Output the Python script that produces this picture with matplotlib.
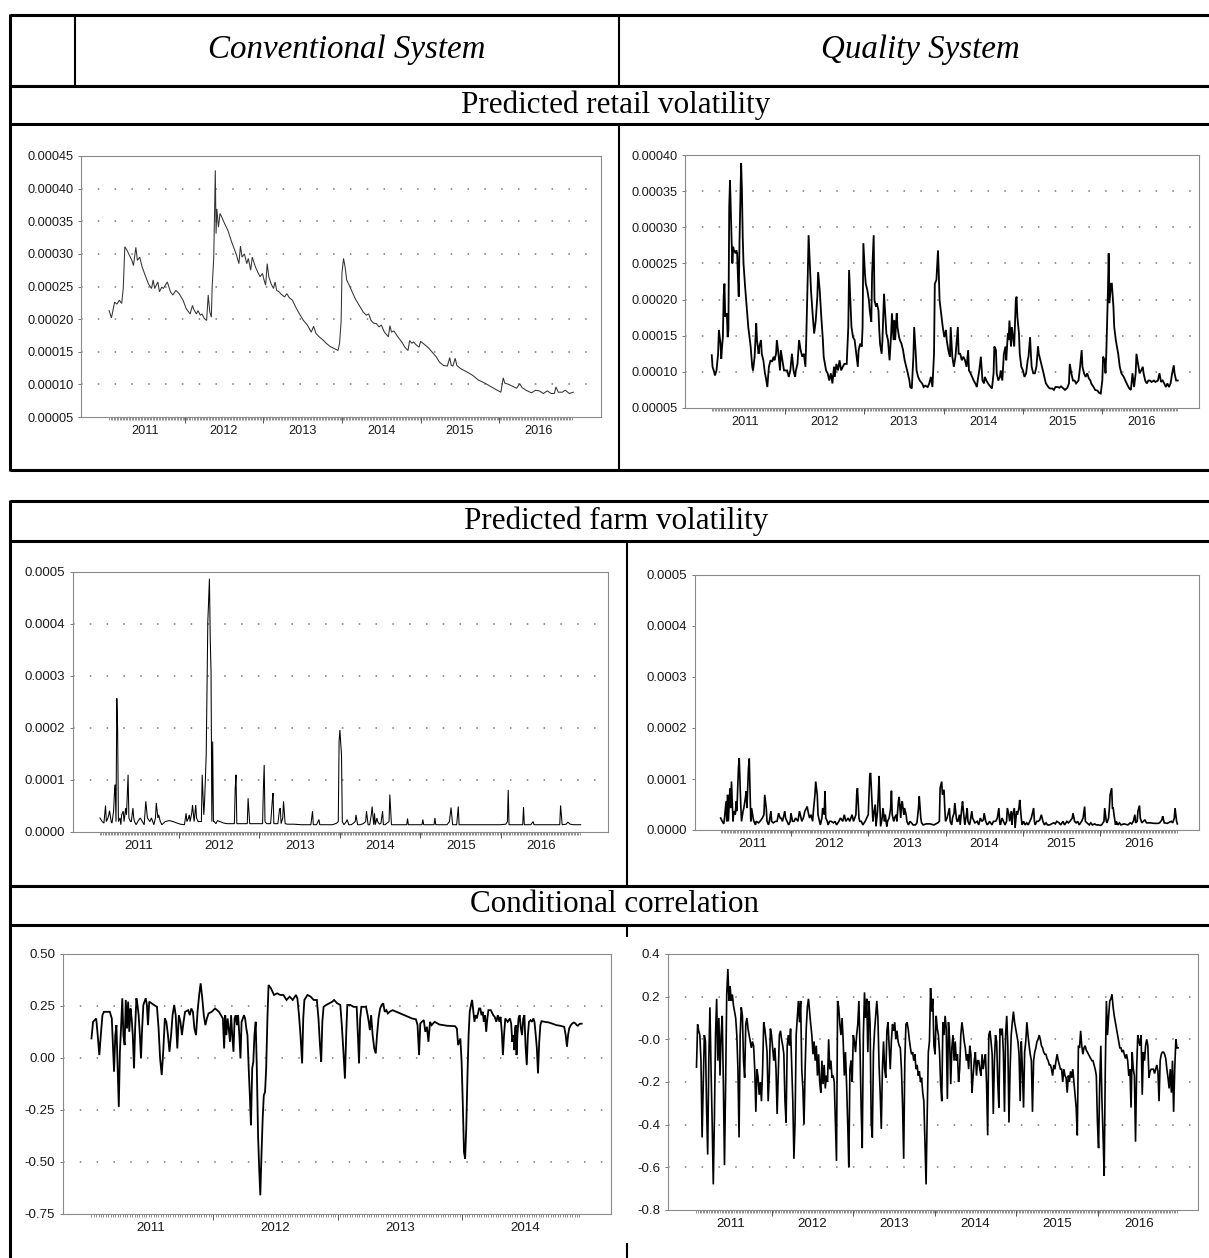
import numpy as np
import matplotlib.pyplot as plt
from matplotlib.lines import Line2D

# ---------------------------------------------------------------- data
# (decimal year, value x 1e-5)
conv_retail = [
    (2011.04, 21.3), (2011.07, 20.2), (2011.11, 22.6), (2011.14, 22.3), (2011.17, 22.9), (2011.20, 22.4),
    (2011.22, 24.7), (2011.24, 31.1), (2011.27, 30.5), (2011.29, 30.0), (2011.33, 29.0), (2011.35, 28.2),
    (2011.38, 31.0), (2011.40, 29.0), (2011.43, 29.5), (2011.46, 28.0), (2011.49, 27.0), (2011.54, 25.4),
    (2011.58, 24.7), (2011.60, 26.0), (2011.62, 24.7), (2011.66, 25.7), (2011.68, 24.2), (2011.71, 24.9),
    (2011.73, 24.7), (2011.78, 25.7), (2011.82, 24.2), (2011.85, 23.7), (2011.89, 24.4), (2011.93, 23.9),
    (2011.98, 22.9), (2012.02, 21.6), (2012.07, 20.8), (2012.10, 22.1), (2012.12, 21.4), (2012.15, 20.8),
    (2012.17, 21.3), (2012.20, 20.6), (2012.22, 20.8), (2012.25, 20.1), (2012.28, 19.8), (2012.30, 23.7),
    (2012.32, 21.1), (2012.34, 20.3), (2012.35, 24.9), (2012.37, 29.3), (2012.39, 42.8), (2012.40, 33.1),
    (2012.41, 36.9), (2012.43, 34.1), (2012.45, 36.2), (2012.47, 35.7), (2012.51, 34.6), (2012.55, 33.6),
    (2012.59, 32.1), (2012.62, 31.1), (2012.66, 29.8), (2012.69, 28.5), (2012.71, 31.2), (2012.73, 29.5),
    (2012.76, 30.0), (2012.79, 28.5), (2012.81, 29.3), (2012.84, 27.5), (2012.86, 29.5), (2012.90, 28.0),
    (2012.93, 27.2), (2012.96, 26.5), (2012.99, 27.0), (2013.01, 26.0), (2013.03, 25.2), (2013.05, 28.5),
    (2013.07, 26.5), (2013.10, 25.4), (2013.13, 24.7), (2013.15, 25.7), (2013.17, 24.4), (2013.20, 24.2),
    (2013.23, 23.8), (2013.27, 23.4), (2013.30, 23.9), (2013.33, 23.3), (2013.37, 22.9), (2013.41, 21.9),
    (2013.46, 20.8), (2013.51, 19.8), (2013.56, 19.1), (2013.61, 18.0), (2013.64, 18.9), (2013.67, 17.8),
    (2013.71, 17.3), (2013.76, 16.8), (2013.80, 16.3), (2013.85, 15.8), (2013.90, 15.5), (2013.95, 15.2),
    (2013.97, 16.3), (2013.99, 19.8), (2014.00, 27.0), (2014.02, 29.3), (2014.04, 28.0), (2014.06, 26.0),
    (2014.10, 25.0), (2014.14, 23.9), (2014.17, 23.1), (2014.22, 22.1), (2014.27, 21.1), (2014.31, 20.6),
    (2014.34, 20.8), (2014.37, 19.8), (2014.40, 19.4), (2014.44, 19.3), (2014.47, 18.8), (2014.50, 19.1),
    (2014.54, 18.0), (2014.59, 17.3), (2014.61, 19.0), (2014.63, 18.0), (2014.66, 18.2), (2014.71, 17.3),
    (2014.76, 16.5), (2014.80, 15.7), (2014.84, 15.2), (2014.86, 16.7), (2014.89, 16.3), (2014.91, 16.5),
    (2014.94, 16.1), (2014.98, 15.7), (2015.00, 16.6), (2015.05, 16.1), (2015.10, 15.6), (2015.15, 14.9),
    (2015.20, 14.2), (2015.24, 13.4), (2015.29, 12.9), (2015.34, 12.8), (2015.37, 14.1), (2015.39, 12.9),
    (2015.41, 12.8), (2015.44, 14.0), (2015.46, 12.9), (2015.51, 12.4), (2015.59, 11.9), (2015.66, 11.4),
    (2015.73, 10.7), (2015.83, 10.1), (2015.93, 9.4), (2016.02, 8.8), (2016.05, 11.0), (2016.07, 10.2),
    (2016.12, 10.0), (2016.17, 9.7), (2016.22, 9.4), (2016.26, 10.1), (2016.29, 9.5), (2016.34, 9.1),
    (2016.41, 8.7), (2016.46, 9.1), (2016.51, 9.0), (2016.56, 8.6), (2016.61, 9.0), (2016.66, 8.6),
    (2016.70, 8.6), (2016.72, 9.6), (2016.75, 8.8), (2016.80, 8.8), (2016.84, 9.1), (2016.89, 8.6),
    (2016.94, 8.8),
]

quality_retail = [
    (2011.08, 12.3), (2011.09, 10.7), (2011.11, 10.0), (2011.12, 9.5), (2011.14, 10.2), (2011.16, 12.5),
    (2011.17, 15.8), (2011.19, 13.9), (2011.20, 11.8), (2011.21, 13.5), (2011.22, 14.8), (2011.23, 20.4),
    (2011.24, 22.2), (2011.25, 17.6), (2011.27, 18.1), (2011.28, 14.8), (2011.29, 15.8), (2011.30, 32.8),
    (2011.31, 36.5), (2011.33, 28.2), (2011.34, 25.0), (2011.35, 27.3), (2011.36, 26.8), (2011.38, 26.4),
    (2011.39, 26.8), (2011.40, 26.4), (2011.41, 23.1), (2011.42, 20.4), (2011.43, 28.2), (2011.45, 38.9),
    (2011.46, 35.2), (2011.47, 28.7), (2011.48, 25.0), (2011.50, 21.8), (2011.52, 19.0), (2011.54, 16.2),
    (2011.57, 13.5), (2011.59, 10.7), (2011.60, 10.2), (2011.62, 12.1), (2011.64, 16.7), (2011.65, 14.4),
    (2011.67, 12.5), (2011.68, 13.5), (2011.70, 14.4), (2011.71, 12.5), (2011.73, 11.6), (2011.75, 9.8),
    (2011.76, 9.3), (2011.78, 7.9), (2011.80, 10.7), (2011.82, 11.6), (2011.84, 11.4), (2011.86, 12.1),
    (2011.87, 11.6), (2011.89, 12.5), (2011.90, 14.4), (2011.92, 12.5), (2011.94, 10.2), (2011.95, 13.0),
    (2011.97, 11.6), (2011.99, 10.2), (2012.01, 10.2), (2012.03, 10.2), (2012.05, 9.3), (2012.07, 10.2),
    (2012.09, 12.5), (2012.11, 10.2), (2012.13, 9.3), (2012.14, 10.2), (2012.16, 11.1), (2012.18, 14.4),
    (2012.20, 13.0), (2012.22, 12.1), (2012.24, 12.5), (2012.26, 10.7), (2012.27, 14.4), (2012.29, 23.6),
    (2012.30, 28.9), (2012.32, 23.6), (2012.33, 21.3), (2012.35, 18.1), (2012.37, 15.3), (2012.39, 17.1),
    (2012.41, 20.4), (2012.42, 23.8), (2012.44, 21.3), (2012.46, 17.6), (2012.48, 14.4), (2012.49, 12.1),
    (2012.52, 10.2), (2012.54, 9.8), (2012.56, 8.8), (2012.58, 9.8), (2012.60, 8.4), (2012.62, 10.7),
    (2012.63, 9.3), (2012.65, 11.1), (2012.67, 10.2), (2012.69, 11.6), (2012.71, 10.2), (2012.73, 10.7),
    (2012.75, 11.1), (2012.78, 11.1), (2012.80, 16.2), (2012.81, 24.1), (2012.83, 19.0), (2012.84, 16.2),
    (2012.86, 14.8), (2012.88, 14.4), (2012.90, 12.5), (2012.92, 10.7), (2012.93, 13.0), (2012.95, 13.9),
    (2012.97, 13.5), (2012.98, 16.2), (2012.99, 27.8), (2013.01, 23.6), (2013.02, 22.2), (2013.04, 21.3),
    (2013.06, 19.9), (2013.07, 18.5), (2013.09, 16.9), (2013.10, 23.6), (2013.12, 28.9), (2013.13, 19.9),
    (2013.15, 19.0), (2013.16, 19.5), (2013.18, 18.5), (2013.19, 15.8), (2013.20, 13.9), (2013.22, 12.5),
    (2013.23, 14.4), (2013.25, 20.8), (2013.27, 17.1), (2013.28, 15.3), (2013.30, 14.4), (2013.32, 11.6),
    (2013.34, 15.3), (2013.35, 18.1), (2013.37, 14.4), (2013.38, 17.1), (2013.39, 14.4), (2013.41, 18.1),
    (2013.42, 16.2), (2013.44, 14.8), (2013.45, 14.4), (2013.47, 13.9), (2013.49, 13.0), (2013.51, 11.6),
    (2013.53, 10.7), (2013.55, 9.8), (2013.57, 8.8), (2013.58, 7.9), (2013.60, 7.7), (2013.62, 12.1),
    (2013.63, 16.2), (2013.65, 12.5), (2013.66, 10.2), (2013.68, 9.3), (2013.70, 8.8), (2013.73, 8.4),
    (2013.75, 7.9), (2013.77, 8.1), (2013.80, 7.9), (2013.82, 8.4), (2013.84, 9.3), (2013.86, 7.9),
    (2013.88, 12.5), (2013.89, 22.2), (2013.91, 22.7), (2013.93, 26.8), (2013.94, 23.6), (2013.95, 19.9),
    (2013.97, 18.1), (2013.99, 16.2), (2014.01, 14.8), (2014.03, 15.8), (2014.04, 14.4), (2014.06, 13.0),
    (2014.08, 12.1), (2014.09, 16.2), (2014.11, 12.1), (2014.13, 10.7), (2014.15, 12.1), (2014.16, 13.5),
    (2014.18, 16.2), (2014.19, 12.5), (2014.21, 12.5), (2014.23, 11.6), (2014.25, 12.1), (2014.27, 11.6),
    (2014.29, 10.7), (2014.31, 13.0), (2014.32, 10.2), (2014.34, 9.8), (2014.36, 9.3), (2014.38, 8.8),
    (2014.40, 8.4), (2014.42, 7.9), (2014.43, 8.8), (2014.45, 10.2), (2014.47, 12.1), (2014.49, 8.8),
    (2014.51, 8.4), (2014.52, 9.3), (2014.54, 8.8), (2014.56, 8.4), (2014.58, 8.1), (2014.61, 7.7),
    (2014.63, 9.8), (2014.64, 13.5), (2014.66, 13.0), (2014.67, 9.8), (2014.69, 8.8), (2014.71, 9.3),
    (2014.72, 10.2), (2014.74, 8.8), (2014.76, 12.5), (2014.78, 13.5), (2014.79, 11.6), (2014.81, 15.3),
    (2014.82, 14.4), (2014.83, 17.1), (2014.85, 13.5), (2014.86, 16.2), (2014.88, 14.4), (2014.89, 13.5),
    (2014.91, 19.9), (2014.92, 20.4), (2014.93, 17.6), (2014.95, 15.3), (2014.96, 12.5), (2014.98, 10.7),
    (2015.00, 10.2), (2015.02, 9.3), (2015.04, 9.8), (2015.06, 11.6), (2015.07, 12.1), (2015.09, 14.8),
    (2015.10, 12.5), (2015.11, 10.7), (2015.13, 9.8), (2015.15, 9.8), (2015.17, 10.7), (2015.19, 13.5),
    (2015.20, 12.5), (2015.22, 11.6), (2015.24, 10.7), (2015.26, 9.8), (2015.28, 8.8), (2015.29, 8.4),
    (2015.32, 7.9), (2015.34, 7.7), (2015.37, 7.7), (2015.39, 7.5), (2015.41, 7.9), (2015.44, 7.9),
    (2015.46, 7.8), (2015.48, 8.0), (2015.51, 7.7), (2015.53, 7.5), (2015.56, 7.8), (2015.58, 8.4),
    (2015.59, 11.1), (2015.61, 9.8), (2015.63, 8.8), (2015.65, 8.8), (2015.67, 8.4), (2015.70, 8.8),
    (2015.72, 10.7), (2015.74, 13.0), (2015.75, 10.7), (2015.77, 9.8), (2015.79, 9.3), (2015.81, 9.8),
    (2015.83, 9.1), (2015.85, 8.8), (2015.86, 8.4), (2015.89, 7.9), (2015.91, 7.5), (2015.94, 7.4),
    (2015.96, 7.1), (2015.98, 7.0), (2016.00, 8.8), (2016.01, 12.1), (2016.03, 11.6), (2016.04, 9.8),
    (2016.05, 12.5), (2016.07, 20.8), (2016.08, 26.4), (2016.09, 19.5), (2016.11, 22.2), (2016.12, 22.2),
    (2016.14, 19.0), (2016.15, 16.2), (2016.17, 14.4), (2016.20, 12.5), (2016.22, 10.7), (2016.24, 9.8),
    (2016.27, 9.3), (2016.29, 8.8), (2016.32, 8.1), (2016.34, 7.7), (2016.36, 7.5), (2016.38, 9.8),
    (2016.40, 7.9), (2016.42, 9.8), (2016.43, 12.5), (2016.45, 11.1), (2016.47, 9.8), (2016.49, 10.2),
    (2016.51, 10.7), (2016.52, 9.8), (2016.54, 8.8), (2016.56, 8.4), (2016.58, 8.8), (2016.60, 8.8),
    (2016.62, 8.6), (2016.65, 8.8), (2016.67, 8.6), (2016.70, 8.8), (2016.72, 9.8), (2016.74, 8.6),
    (2016.76, 8.8), (2016.78, 8.4), (2016.80, 7.9), (2016.82, 8.4), (2016.84, 7.9), (2016.86, 8.4),
    (2016.88, 9.8), (2016.90, 10.9), (2016.91, 9.8), (2016.93, 8.8), (2016.95, 8.8),
]

conv_farm = [
    (2011.02, 2.7), (2011.05, 2.0), (2011.07, 1.7), (2011.09, 5.1), (2011.10, 2.0), (2011.12, 2.7),
    (2011.13, 3.3), (2011.14, 4.1), (2011.16, 2.0), (2011.17, 1.7), (2011.19, 4.0), (2011.20, 7.4),
    (2011.21, 9.1), (2011.22, 2.0), (2011.23, 25.7), (2011.24, 19.9), (2011.25, 2.0), (2011.27, 2.7),
    (2011.28, 1.4), (2011.29, 3.3), (2011.31, 4.0), (2011.32, 2.0), (2011.34, 4.6), (2011.35, 3.3),
    (2011.37, 11.0), (2011.38, 2.7), (2011.40, 2.0), (2011.41, 2.0), (2011.43, 4.6), (2011.44, 2.7),
    (2011.45, 2.0), (2011.47, 1.4), (2011.49, 2.0), (2011.52, 2.7), (2011.57, 1.4), (2011.59, 5.9),
    (2011.61, 2.7), (2011.64, 2.0), (2011.66, 2.7), (2011.69, 1.4), (2011.71, 2.7), (2011.72, 5.6),
    (2011.74, 2.7), (2011.75, 3.3), (2011.77, 2.0), (2011.79, 1.4), (2011.83, 2.0), (2011.88, 2.2),
    (2011.93, 2.0), (2011.98, 1.7), (2012.02, 1.5), (2012.07, 1.4), (2012.09, 3.6), (2012.10, 2.0),
    (2012.12, 2.7), (2012.13, 3.3), (2012.14, 2.0), (2012.16, 3.6), (2012.17, 5.2), (2012.19, 2.0),
    (2012.21, 5.2), (2012.22, 2.7), (2012.24, 2.0), (2012.26, 2.0), (2012.28, 2.0), (2012.29, 11.0),
    (2012.31, 3.3), (2012.32, 5.9), (2012.34, 14.8), (2012.35, 27.6), (2012.36, 40.4), (2012.38, 48.7),
    (2012.39, 37.2), (2012.40, 30.8), (2012.41, 2.0), (2012.42, 17.4), (2012.43, 2.0), (2012.44, 2.0),
    (2012.46, 1.6), (2012.48, 2.2), (2012.51, 2.0), (2012.56, 1.7), (2012.60, 1.6), (2012.65, 1.6),
    (2012.69, 1.6), (2012.70, 8.4), (2012.71, 11.0), (2012.72, 1.6), (2012.75, 1.6), (2012.80, 1.6),
    (2012.85, 1.6), (2012.86, 6.5), (2012.88, 1.6), (2012.92, 1.6), (2012.99, 1.6), (2013.04, 1.6),
    (2013.05, 8.4), (2013.06, 12.9), (2013.07, 2.0), (2013.09, 1.6), (2013.14, 1.6), (2013.16, 5.9),
    (2013.17, 7.5), (2013.18, 1.6), (2013.23, 1.6), (2013.25, 4.3), (2013.26, 4.6), (2013.27, 1.6),
    (2013.29, 2.7), (2013.30, 5.9), (2013.32, 1.6), (2013.35, 1.5), (2013.43, 1.5), (2013.52, 1.4),
    (2013.62, 1.4), (2013.64, 1.4), (2013.66, 4.0), (2013.67, 1.4), (2013.71, 1.4), (2013.74, 2.4),
    (2013.75, 1.4), (2013.81, 1.4), (2013.86, 1.4), (2013.91, 1.4), (2013.96, 1.7), (2013.98, 2.0),
    (2013.99, 17.4), (2014.00, 19.6), (2014.02, 14.8), (2014.03, 2.0), (2014.05, 1.4), (2014.08, 2.0),
    (2014.09, 2.4), (2014.11, 1.4), (2014.14, 1.4), (2014.16, 1.6), (2014.19, 2.0), (2014.20, 3.3),
    (2014.22, 1.4), (2014.25, 1.4), (2014.29, 1.6), (2014.32, 2.0), (2014.33, 4.0), (2014.35, 1.4),
    (2014.37, 1.4), (2014.39, 3.3), (2014.40, 4.9), (2014.42, 1.4), (2014.43, 3.6), (2014.44, 1.4),
    (2014.46, 2.7), (2014.47, 2.0), (2014.49, 1.5), (2014.51, 1.7), (2014.53, 4.0), (2014.54, 1.4),
    (2014.56, 1.4), (2014.61, 2.0), (2014.62, 7.2), (2014.64, 1.4), (2014.68, 1.4), (2014.73, 1.4),
    (2014.78, 1.4), (2014.83, 1.4), (2014.84, 2.6), (2014.85, 1.4), (2014.92, 1.4), (2015.02, 1.4),
    (2015.03, 2.4), (2015.04, 1.4), (2015.12, 1.4), (2015.17, 1.4), (2015.18, 2.7), (2015.19, 1.4),
    (2015.26, 1.4), (2015.33, 1.4), (2015.36, 2.0), (2015.38, 4.7), (2015.40, 1.4), (2015.45, 1.4),
    (2015.47, 4.9), (2015.48, 1.4), (2015.55, 1.4), (2015.70, 1.4), (2015.84, 1.4), (2015.99, 1.4),
    (2016.06, 1.5), (2016.08, 2.0), (2016.09, 8.1), (2016.10, 1.4), (2016.18, 1.4), (2016.27, 1.4),
    (2016.28, 4.8), (2016.29, 1.4), (2016.37, 1.4), (2016.40, 2.0), (2016.41, 1.4), (2016.47, 1.4),
    (2016.57, 1.4), (2016.66, 1.4), (2016.73, 1.4), (2016.74, 5.1), (2016.76, 1.4), (2016.81, 1.5),
    (2016.83, 1.9), (2016.86, 1.5), (2016.90, 1.4), (2016.99, 1.4),
]

quality_farm = [
    (2011.09, 2.35), (2011.11, 1.7), (2011.13, 1.2), (2011.14, 2.35), (2011.16, 5.6), (2011.17, 1.7),
    (2011.18, 6.9), (2011.19, 1.7), (2011.21, 8.2), (2011.22, 4.3), (2011.23, 9.5), (2011.25, 1.7),
    (2011.26, 3.7), (2011.28, 3.0), (2011.29, 5.6), (2011.30, 3.7), (2011.32, 12.1), (2011.33, 14.1),
    (2011.35, 5.0), (2011.36, 1.7), (2011.38, 3.7), (2011.39, 4.3), (2011.41, 6.3), (2011.42, 7.6),
    (2011.43, 4.3), (2011.45, 12.1), (2011.46, 14.0), (2011.48, 1.7), (2011.49, 4.3), (2011.51, 2.35),
    (2011.52, 1.7), (2011.54, 1.0), (2011.55, 1.7), (2011.58, 1.4), (2011.60, 1.7), (2011.63, 2.35),
    (2011.65, 3.0), (2011.66, 6.9), (2011.68, 4.3), (2011.69, 1.7), (2011.71, 1.0), (2011.72, 1.7),
    (2011.74, 3.7), (2011.75, 1.7), (2011.77, 1.4), (2011.80, 1.7), (2011.82, 1.7), (2011.84, 3.3),
    (2011.86, 2.35), (2011.87, 2.35), (2011.89, 1.7), (2011.92, 3.7), (2011.93, 2.35), (2011.95, 1.7),
    (2011.97, 1.0), (2011.99, 1.7), (2012.00, 3.3), (2012.02, 1.7), (2012.04, 1.7), (2012.06, 2.35),
    (2012.09, 1.7), (2012.11, 3.7), (2012.13, 2.35), (2012.14, 1.7), (2012.16, 2.35), (2012.18, 3.7),
    (2012.21, 4.6), (2012.22, 3.7), (2012.24, 2.35), (2012.26, 3.0), (2012.28, 1.7), (2012.29, 3.7),
    (2012.31, 6.9), (2012.32, 9.5), (2012.34, 6.9), (2012.35, 3.0), (2012.37, 1.7), (2012.38, 1.0),
    (2012.40, 2.35), (2012.41, 4.3), (2012.43, 3.0), (2012.44, 7.6), (2012.45, 2.35), (2012.47, 1.7),
    (2012.48, 1.0), (2012.50, 1.7), (2012.52, 1.7), (2012.55, 1.4), (2012.57, 1.7), (2012.59, 1.0),
    (2012.62, 1.7), (2012.64, 2.35), (2012.67, 1.7), (2012.69, 3.0), (2012.71, 1.7), (2012.74, 2.35),
    (2012.76, 1.7), (2012.79, 3.0), (2012.81, 1.7), (2012.84, 3.0), (2012.85, 6.9), (2012.86, 8.2),
    (2012.88, 2.35), (2012.89, 1.7), (2012.91, 1.7), (2012.93, 1.0), (2012.96, 1.7), (2012.98, 2.35),
    (2013.00, 3.0), (2013.01, 6.9), (2013.02, 10.8), (2013.03, 11.2), (2013.04, 8.2), (2013.06, 1.7),
    (2013.07, 3.0), (2013.09, 5.0), (2013.10, 0.7), (2013.12, 3.7), (2013.13, 6.9), (2013.14, 10.6),
    (2013.15, 5.0), (2013.16, 0.7), (2013.18, 2.35), (2013.19, 4.3), (2013.21, 1.7), (2013.22, 3.0),
    (2013.24, 0.7), (2013.25, 1.7), (2013.27, 2.35), (2013.29, 4.3), (2013.30, 7.7), (2013.31, 3.0),
    (2013.33, 1.7), (2013.34, 2.35), (2013.36, 3.0), (2013.37, 1.7), (2013.39, 5.6), (2013.40, 6.5),
    (2013.42, 2.35), (2013.43, 5.0), (2013.44, 5.6), (2013.46, 3.0), (2013.47, 4.3), (2013.49, 3.0),
    (2013.50, 1.7), (2013.52, 1.0), (2013.54, 1.7), (2013.56, 1.4), (2013.58, 1.0), (2013.61, 1.0),
    (2013.63, 1.4), (2013.65, 4.3), (2013.66, 6.6), (2013.68, 2.35), (2013.69, 1.4), (2013.71, 1.0),
    (2013.75, 1.2), (2013.80, 1.2), (2013.85, 1.0), (2013.90, 1.4), (2013.92, 1.7), (2013.93, 8.2),
    (2013.95, 9.5), (2013.96, 6.9), (2013.98, 7.9), (2013.99, 4.3), (2014.00, 1.7), (2014.02, 2.35),
    (2014.03, 3.0), (2014.05, 4.3), (2014.06, 1.7), (2014.08, 1.0), (2014.09, 2.35), (2014.11, 3.3),
    (2014.12, 5.3), (2014.14, 2.35), (2014.15, 1.7), (2014.16, 1.7), (2014.18, 3.0), (2014.19, 1.0),
    (2014.21, 4.3), (2014.22, 5.6), (2014.24, 2.35), (2014.25, 1.0), (2014.27, 3.0), (2014.28, 4.3),
    (2014.29, 1.7), (2014.31, 1.0), (2014.32, 1.7), (2014.34, 3.7), (2014.35, 2.35), (2014.37, 1.7),
    (2014.38, 1.4), (2014.41, 1.7), (2014.43, 1.0), (2014.45, 2.35), (2014.47, 1.7), (2014.49, 2.0),
    (2014.50, 3.3), (2014.52, 1.7), (2014.54, 1.0), (2014.56, 1.4), (2014.57, 1.7), (2014.60, 1.0),
    (2014.62, 1.7), (2014.65, 1.7), (2014.67, 2.35), (2014.69, 4.3), (2014.70, 1.7), (2014.71, 1.0),
    (2014.73, 2.35), (2014.75, 1.7), (2014.77, 1.0), (2014.79, 1.7), (2014.80, 4.3), (2014.82, 3.0),
    (2014.83, 1.7), (2014.85, 3.7), (2014.86, 1.0), (2014.87, 3.0), (2014.89, 4.3), (2014.90, 0.4),
    (2014.92, 3.7), (2014.93, 3.0), (2014.95, 4.3), (2014.96, 5.9), (2014.98, 2.35), (2014.99, 1.0),
    (2015.01, 1.7), (2015.03, 1.0), (2015.05, 1.4), (2015.07, 1.0), (2015.09, 1.7), (2015.11, 2.35),
    (2015.12, 3.0), (2015.14, 4.3), (2015.15, 1.7), (2015.16, 1.0), (2015.18, 1.7), (2015.20, 1.7),
    (2015.22, 2.0), (2015.24, 3.0), (2015.26, 1.7), (2015.28, 1.0), (2015.30, 1.4), (2015.32, 1.0),
    (2015.35, 1.0), (2015.37, 1.2), (2015.40, 1.4), (2015.42, 1.2), (2015.44, 1.7), (2015.47, 1.4),
    (2015.49, 1.0), (2015.52, 1.7), (2015.54, 1.0), (2015.57, 1.7), (2015.59, 1.4), (2015.61, 1.7),
    (2015.64, 2.35), (2015.65, 3.3), (2015.67, 1.7), (2015.69, 1.4), (2015.71, 1.7), (2015.73, 1.0),
    (2015.76, 1.7), (2015.78, 2.35), (2015.80, 4.6), (2015.81, 1.7), (2015.83, 1.4), (2015.86, 1.0),
    (2015.88, 1.4), (2015.90, 1.0), (2015.93, 1.2), (2015.95, 1.0), (2015.98, 1.0), (2016.00, 0.9),
    (2016.02, 1.0), (2016.05, 1.7), (2016.06, 4.3), (2016.08, 1.7), (2016.09, 1.4), (2016.11, 2.35),
    (2016.12, 4.3), (2016.13, 6.9), (2016.15, 8.2), (2016.16, 4.3), (2016.17, 4.3), (2016.18, 3.0),
    (2016.20, 1.0), (2016.21, 1.7), (2016.23, 1.0), (2016.25, 1.4), (2016.27, 1.0), (2016.31, 1.2),
    (2016.36, 1.0), (2016.39, 1.4), (2016.41, 1.2), (2016.43, 1.7), (2016.45, 3.0), (2016.46, 1.4),
    (2016.48, 1.7), (2016.49, 3.7), (2016.51, 4.8), (2016.52, 2.35), (2016.54, 1.4), (2016.56, 1.7),
    (2016.58, 2.0), (2016.60, 1.4), (2016.65, 1.4), (2016.70, 1.3), (2016.75, 1.3), (2016.77, 1.4),
    (2016.80, 2.0), (2016.81, 2.7), (2016.83, 1.4), (2016.87, 1.3), (2016.92, 1.7), (2016.94, 1.4),
    (2016.96, 2.35), (2016.97, 4.3), (2016.99, 1.7), (2017.00, 1.2),
]

# (decimal year, correlation)
conv_corr = [
    (2011.028, 0.094), (2011.041, 0.174), (2011.053, 0.182), (2011.066, 0.190), (2011.078, 0.110),
    (2011.091, 0.014), (2011.103, 0.110), (2011.116, 0.206), (2011.128, 0.222), (2011.159, 0.222),
    (2011.175, 0.222), (2011.191, 0.190), (2011.200, 0.062), (2011.209, -0.066), (2011.219, 0.110),
    (2011.228, 0.158), (2011.238, -0.050), (2011.247, -0.235), (2011.256, 0.030), (2011.266, 0.158),
    (2011.275, 0.287), (2011.284, 0.110), (2011.294, 0.062), (2011.303, 0.279), (2011.313, 0.142),
    (2011.322, 0.271), (2011.331, 0.126), (2011.341, 0.238), (2011.350, 0.190), (2011.359, 0.110),
    (2011.369, -0.050), (2011.378, 0.142), (2011.388, 0.287), (2011.397, 0.255), (2011.406, 0.206),
    (2011.416, 0.110), (2011.425, -0.002), (2011.434, 0.142), (2011.444, 0.255), (2011.453, 0.271),
    (2011.463, 0.287), (2011.472, 0.255), (2011.481, 0.158), (2011.491, 0.271), (2011.509, 0.263),
    (2011.528, 0.255), (2011.553, 0.246), (2011.566, 0.142), (2011.578, -0.002), (2011.591, -0.082),
    (2011.603, 0.030), (2011.616, 0.190), (2011.628, 0.174), (2011.641, 0.110), (2011.653, 0.030),
    (2011.666, 0.110), (2011.678, 0.206), (2011.691, 0.255), (2011.703, 0.206), (2011.716, 0.046),
    (2011.728, 0.206), (2011.741, 0.174), (2011.753, 0.110), (2011.766, 0.174), (2011.778, 0.222),
    (2011.803, 0.230), (2011.816, 0.206), (2011.828, 0.238), (2011.841, 0.222), (2011.853, 0.142),
    (2011.866, 0.110), (2011.878, 0.222), (2011.891, 0.303), (2011.903, 0.359), (2011.916, 0.287),
    (2011.928, 0.206), (2011.941, 0.158), (2011.953, 0.190), (2011.966, 0.214), (2011.991, 0.222),
    (2012.019, 0.238), (2012.050, 0.222), (2012.066, 0.206), (2012.081, 0.190), (2012.091, 0.046),
    (2012.100, 0.206), (2012.109, 0.110), (2012.119, 0.190), (2012.128, 0.142), (2012.138, 0.078),
    (2012.147, 0.206), (2012.156, 0.110), (2012.166, 0.030), (2012.175, 0.190), (2012.184, 0.206),
    (2012.194, 0.158), (2012.203, 0.206), (2012.213, 0.110), (2012.222, -0.002), (2012.231, 0.174),
    (2012.241, 0.190), (2012.250, 0.206), (2012.259, 0.190), (2012.269, 0.142), (2012.278, 0.110),
    (2012.288, -0.050), (2012.297, -0.179), (2012.306, -0.323), (2012.316, -0.050), (2012.325, -0.018),
    (2012.334, 0.110), (2012.344, 0.174), (2012.353, -0.050), (2012.363, -0.371), (2012.372, -0.532),
    (2012.381, -0.660), (2012.391, -0.452), (2012.400, -0.291), (2012.409, -0.179), (2012.419, -0.163),
    (2012.428, -0.050), (2012.438, 0.190), (2012.447, 0.351), (2012.466, 0.335), (2012.491, 0.303),
    (2012.516, 0.311), (2012.541, 0.303), (2012.566, 0.303), (2012.591, 0.279), (2012.616, 0.295),
    (2012.641, 0.279), (2012.666, 0.303), (2012.678, 0.287), (2012.691, 0.206), (2012.703, 0.110),
    (2012.716, -0.026), (2012.725, 0.190), (2012.734, 0.279), (2012.759, 0.303), (2012.784, 0.295),
    (2012.809, 0.279), (2012.834, 0.279), (2012.847, 0.190), (2012.859, 0.062), (2012.869, -0.018),
    (2012.878, 0.174), (2012.888, 0.246), (2012.909, 0.255), (2012.934, 0.263), (2012.959, 0.271),
    (2012.972, 0.279), (2012.997, 0.263), (2013.022, 0.255), (2013.034, 0.158), (2013.047, 0.030),
    (2013.059, -0.099), (2013.069, 0.110), (2013.078, 0.255), (2013.103, 0.255), (2013.128, 0.246),
    (2013.153, 0.246), (2013.163, 0.110), (2013.172, -0.026), (2013.181, 0.190), (2013.191, 0.246),
    (2013.228, 0.246), (2013.241, 0.206), (2013.250, 0.174), (2013.259, 0.134), (2013.269, 0.206),
    (2013.281, 0.110), (2013.294, 0.046), (2013.306, 0.022), (2013.316, 0.110), (2013.328, 0.190),
    (2013.341, 0.238), (2013.353, 0.255), (2013.366, 0.263), (2013.378, 0.222), (2013.391, 0.230),
    (2013.403, 0.214), (2013.416, 0.222), (2013.441, 0.230), (2013.472, 0.222), (2013.503, 0.214),
    (2013.534, 0.206), (2013.566, 0.198), (2013.597, 0.190), (2013.628, 0.186), (2013.641, 0.158),
    (2013.653, 0.014), (2013.663, 0.166), (2013.675, 0.174), (2013.691, 0.182), (2013.703, 0.126),
    (2013.716, 0.150), (2013.728, 0.078), (2013.741, 0.174), (2013.753, 0.158), (2013.766, 0.166),
    (2013.778, 0.174), (2013.816, 0.161), (2013.878, 0.155), (2013.941, 0.153), (2013.956, 0.142),
    (2013.966, 0.062), (2013.975, 0.078), (2013.984, 0.094), (2013.994, -0.018), (2014.003, -0.211),
    (2014.013, -0.452), (2014.022, -0.484), (2014.031, -0.339), (2014.041, -0.082), (2014.050, 0.110),
    (2014.059, 0.222), (2014.069, 0.255), (2014.078, 0.279), (2014.088, 0.222), (2014.097, 0.174),
    (2014.106, 0.206), (2014.116, 0.190), (2014.125, 0.214), (2014.134, 0.238), (2014.144, 0.238),
    (2014.153, 0.206), (2014.163, 0.222), (2014.172, 0.174), (2014.181, 0.206), (2014.191, 0.126),
    (2014.200, 0.190), (2014.209, 0.230), (2014.228, 0.230), (2014.247, 0.206), (2014.259, 0.198),
    (2014.272, 0.174), (2014.284, 0.206), (2014.297, 0.174), (2014.306, 0.198), (2014.316, 0.126),
    (2014.325, 0.014), (2014.334, 0.110), (2014.344, 0.190), (2014.363, 0.174), (2014.381, 0.190),
    (2014.391, 0.166), (2014.400, 0.078), (2014.409, 0.110), (2014.416, 0.038), (2014.422, 0.142),
    (2014.428, 0.158), (2014.434, 0.014), (2014.441, 0.110), (2014.450, 0.190), (2014.459, 0.206),
    (2014.469, 0.142), (2014.478, 0.110), (2014.488, 0.190), (2014.497, 0.206), (2014.506, 0.062),
    (2014.516, -0.034), (2014.525, 0.110), (2014.534, 0.174), (2014.547, 0.182), (2014.559, 0.174),
    (2014.569, 0.190), (2014.578, 0.174), (2014.588, 0.110), (2014.597, 0.046), (2014.606, -0.074),
    (2014.616, 0.078), (2014.625, 0.158), (2014.634, 0.177), (2014.659, 0.174), (2014.691, 0.171),
    (2014.722, 0.165), (2014.753, 0.158), (2014.784, 0.155), (2014.816, 0.150), (2014.828, 0.110),
    (2014.838, 0.054), (2014.847, 0.110), (2014.856, 0.142), (2014.869, 0.158), (2014.881, 0.166),
    (2014.894, 0.171), (2014.906, 0.166), (2014.916, 0.158), (2014.925, 0.155), (2014.934, 0.161),
    (2014.944, 0.165), (2014.956, 0.165),
]

# quality-system correlation, equally spaced readings from start to end
quality_corr_start, quality_corr_end = 2011.08, 2016.98
quality_corr = [
    -0.13, 0.07, 0.04, 0.02, -0.10, -0.46, -0.21, 0.02, -0.01, -0.32, -0.54, -0.10, 0.15, -0.14, -0.39,
    -0.68, -0.37, 0.02, 0.19, -0.10, 0.10, -0.17, 0.02, 0.11, -0.21, -0.59, -0.21, 0.21, 0.33, 0.18,
    0.25, 0.18, 0.21, 0.16, 0.13, 0.10, 0.02, -0.14, -0.46, 0.02, 0.15, 0.11, -0.10, -0.18, 0.07,
    0.10, 0.05, 0.02, -0.01, -0.04, -0.01, -0.03, -0.14, -0.34, -0.14, -0.18, -0.26, -0.20, -0.29, -0.15,
    0.08, 0.05, 0.00, -0.06, -0.29, -0.17, 0.05, 0.02, -0.04, -0.10, -0.04, -0.14, -0.35, -0.17, 0.02,
    0.04, 0.00, -0.03, -0.07, -0.29, -0.39, -0.03, 0.02, -0.03, 0.05, -0.12, -0.29, -0.56, -0.39, 0.02,
    0.10, 0.18, 0.08, 0.18, -0.14, -0.23, -0.40, -0.14, 0.05, 0.15, 0.19, 0.13, 0.07, 0.02, -0.07,
    -0.01, -0.10, -0.03, -0.17, -0.07, -0.20, -0.25, -0.10, -0.21, -0.12, -0.23, -0.17, -0.20, 0.00, -0.14,
    -0.10, -0.18, -0.17, -0.20, -0.39, -0.57, 0.18, 0.15, 0.07, 0.02, 0.10, -0.01, -0.17, -0.06, -0.21,
    -0.39, -0.60, -0.14, -0.10, -0.20, 0.02, -0.01, -0.06, 0.02, 0.07, 0.18, -0.04, -0.32, -0.51, 0.02,
    0.22, 0.10, 0.19, -0.06, 0.18, 0.07, -0.39, -0.46, -0.06, 0.04, 0.11, 0.18, 0.10, -0.12, -0.25,
    -0.42, -0.14, -0.01, -0.14, -0.18, 0.04, 0.08, -0.03, -0.14, -0.01, 0.07, 0.04, 0.08, 0.00, 0.04,
    -0.01, -0.03, -0.04, -0.14, -0.31, -0.56, -0.10, 0.07, 0.08, 0.05, 0.00, -0.04, -0.07, -0.06, -0.10,
    -0.07, -0.14, -0.12, -0.17, -0.15, -0.20, -0.18, -0.25, -0.29, -0.48, -0.68, -0.35, -0.06, -0.01, 0.24,
    0.13, 0.19, -0.03, -0.07, 0.11, 0.05, 0.02, -0.06, -0.21, -0.29, 0.08, 0.02, 0.11, 0.05, -0.28,
    0.08, 0.00, -0.21, -0.04, 0.02, -0.10, -0.01, -0.10, -0.07, -0.20, -0.14, 0.02, 0.08, 0.04, -0.01,
    -0.04, -0.10, -0.07, -0.14, -0.03, -0.07, -0.25, -0.17, -0.10, -0.06, -0.17, -0.10, -0.10, -0.14, -0.17,
    -0.07, -0.14, -0.10, -0.07, -0.21, -0.45, 0.02, 0.04, -0.01, -0.07, -0.35, -0.10, 0.02, -0.01, -0.20,
    -0.32, 0.05, 0.02, 0.05, -0.06, -0.34, 0.02, 0.11, -0.03, -0.39, -0.14, 0.02, 0.08, 0.13, 0.08,
    0.05, 0.02, -0.01, -0.07, -0.29, -0.01, -0.14, -0.32, -0.06, -0.01, 0.08, 0.02, -0.03, -0.07, -0.10,
    -0.34, -0.10, -0.06, -0.04, -0.01, 0.00, 0.02, 0.00, -0.03, -0.04, -0.06, -0.07, -0.07, -0.09, -0.10,
    -0.12, -0.12, -0.14, -0.17, -0.12, -0.14, -0.10, -0.07, -0.10, -0.12, -0.14, -0.14, -0.20, -0.14, -0.17,
    -0.18, -0.25, -0.17, -0.20, -0.15, -0.18, -0.14, -0.20, -0.26, -0.32, -0.45, -0.03, -0.04, 0.04, -0.03,
    -0.07, -0.04, -0.03, -0.05, -0.06, -0.07, -0.08, -0.09, -0.10, -0.10, -0.12, -0.14, -0.17, -0.39, -0.51,
    -0.21, -0.03, -0.28, -0.45, -0.64, -0.14, 0.18, 0.02, 0.11, 0.18, 0.19, 0.21, 0.15, 0.11, 0.08,
    0.05, 0.02, -0.01, -0.04, -0.04, -0.06, -0.05, -0.07, -0.09, -0.07, -0.10, -0.17, -0.14, -0.32, -0.06,
    -0.14, -0.17, -0.48, -0.14, 0.02, -0.01, -0.03, 0.02, -0.26, -0.06, -0.10, -0.03, 0.00, -0.03, -0.18,
    -0.15, -0.14, -0.14, -0.14, -0.16, -0.14, -0.12, -0.15, -0.29, -0.10, -0.07, -0.06, -0.06, -0.07, -0.09,
    -0.14, -0.18, -0.23, -0.14, -0.25, -0.10, -0.34, -0.14, 0.00, -0.04, -0.04,
]

years6 = [2011, 2012, 2013, 2014, 2015, 2016]
years4 = [2011, 2012, 2013, 2014]

# ---------------------------------------------------------------- layout
W, H = 1209, 1258
fig = plt.figure(figsize=(W / 100, H / 100), dpi=100)
fig.patch.set_facecolor("white")

TICK_FONT = "Liberation Sans"
HEAD_FONT = "Liberation Serif"


def fx(x):
    return x / W


def fy(y):
    return 1 - y / H


def seg(x0, y0, x1, y1, lw):
    fig.add_artist(Line2D([fx(x0), fx(x1)], [fy(y0), fy(y1)], color="black",
                          lw=lw, transform=fig.transFigure, solid_capstyle="butt"))


def panel(box, t, v, xlim, years, ylim, yticks, ylabels, grid, lw, color, fs):
    x0, y0, x1, y1 = box
    ax = fig.add_axes([fx(x0), fy(y1), fx(x1 - x0), (y1 - y0) / H])
    ax.plot(t, v, color=color, lw=lw, solid_joinstyle="miter")
    ax.set_xlim(*xlim)
    ax.set_ylim(*ylim)
    for s in ax.spines.values():
        s.set_color("#8a8a8a")
        s.set_linewidth(0.8)
    for g in grid:
        ax.axhline(g, color="#777777", lw=1.1, ls=(0, (1, 10)), zorder=0)
    ax.set_yticks(yticks)
    ax.set_yticklabels(ylabels, fontfamily=TICK_FONT)
    ax.tick_params(axis="y", direction="out", length=2.5, width=0.6, color="#666",
                   labelsize=fs, pad=3, labelcolor="#1a1a1a")
    # year boundaries (major), every observation week (minor)
    ax.set_xticks(years[1:])
    ax.set_xticklabels([])
    ax.set_xticks(np.arange(t[0], t[-1], 1 / 52.18), minor=True)
    ax.tick_params(axis="x", which="major", direction="out", length=4.5, width=0.7, color="#555")
    ax.tick_params(axis="x", which="minor", direction="out", length=2.4, width=0.45, color="#555")
    sec = ax.secondary_xaxis("bottom")
    sec.set_xticks([y + 0.5 for y in years])
    sec.set_xticklabels([str(y) for y in years], fontfamily=TICK_FONT)
    sec.tick_params(length=0, pad=6, labelsize=fs, labelcolor="#1a1a1a")
    sec.spines["bottom"].set_visible(False)
    return ax


# top table rules
seg(10, 15, 1209, 15, 2.2)
seg(10, 86, 1209, 86, 2.2)
seg(10, 124, 1209, 124, 2.2)
seg(10, 470, 1209, 470, 2.2)
seg(10, 14, 10, 471, 2.2)
seg(75, 15, 75, 86, 1.5)
seg(619, 15, 619, 86, 1.5)
seg(619, 124, 619, 470, 1.5)
# bottom table rules
seg(10, 501, 1209, 501, 2.2)
seg(10, 541, 1209, 541, 2.2)
seg(10, 886, 1209, 886, 2.2)
seg(10, 925, 1209, 925, 2.2)
seg(10, 500, 10, 1258, 2.2)
seg(627, 541, 627, 886, 1.5)
seg(627, 925, 627, 937, 1.5)
seg(627, 1243, 627, 1258, 1.5)

fig.text(fx(347), fy(50), "Conventional System", family=HEAD_FONT, style="italic",
         fontsize=23.8, ha="center", va="center")
fig.text(fx(920), fy(50), "Quality System", family=HEAD_FONT, style="italic",
         fontsize=23.8, ha="center", va="center")
fig.text(fx(616), fy(105), "Predicted retail volatility", family=HEAD_FONT,
         fontsize=22.4, ha="center", va="center")
fig.text(fx(616), fy(521), "Predicted farm volatility", family=HEAD_FONT,
         fontsize=22.4, ha="center", va="center")
fig.text(fx(615), fy(905), "Conditional correlation", family=HEAD_FONT,
         fontsize=22.4, ha="center", va="center")

# ---------------------------------------------------------------- panels
ct, cv = np.array(conv_retail).T
panel((81, 156, 601, 417), ct, cv * 1e-5, (2010.683, 2017.293), years6,
      (0.00005, 0.00045), np.arange(0.00005, 0.000451, 0.00005),
      ["0.00005", "0.00010", "0.00015", "0.00020", "0.00025", "0.00030", "0.00035",
       "0.00040", "0.00045"],
      np.arange(0.0001, 0.000401, 0.00005), 0.75, "#333333", 9.2)

qt, qv = np.array(quality_retail).T
panel((685, 155, 1199, 408), qt, qv * 1e-5, (2010.743, 2017.218), years6,
      (0.00005, 0.0004), np.arange(0.00005, 0.000401, 0.00005),
      ["0.00005", "0.00010", "0.00015", "0.00020", "0.00025", "0.00030", "0.00035",
       "0.00040"],
      np.arange(0.0001, 0.000351, 0.00005), 1.3, "black", 9.2)

ft, fv = np.array(conv_farm).T
panel((73, 572, 608, 832), ft, fv * 1e-5, (2010.686, 2017.329), years6,
      (0.0, 0.0005), np.arange(0, 0.00051, 0.0001),
      ["0.0000", "0.0001", "0.0002", "0.0003", "0.0004", "0.0005"],
      np.arange(0.0001, 0.00041, 0.0001), 0.75, "black", 9.5)

gt, gv = np.array(quality_farm).T
panel((695, 575, 1199, 830), gt, gv * 1e-5, (2010.758, 2017.280), years6,
      (0.0, 0.0005), np.arange(0, 0.00051, 0.0001),
      ["0.0000", "0.0001", "0.0002", "0.0003", "0.0004", "0.0005"],
      [], 1.2, "black", 9.5)

et, ev = np.array(conv_corr).T
panel((63, 954, 611, 1214), et, ev, (2010.80, 2015.191), years4,
      (-0.75, 0.5), [-0.75, -0.5, -0.25, 0.0, 0.25, 0.5],
      ["-0.75", "-0.50", "-0.25", "0.00", "0.25", "0.50"],
      [-0.5, -0.25, 0.0, 0.25], 1.3, "black", 9.6)

rt = np.linspace(quality_corr_start, quality_corr_end, len(quality_corr))
panel((668, 954, 1198, 1210), rt, np.array(quality_corr), (2010.731, 2017.224), years6,
      (-0.8, 0.4), [-0.8, -0.6, -0.4, -0.2, 0.0, 0.2, 0.4],
      ["-0.8", "-0.6", "-0.4", "-0.2", "-0.0", "0.2", "0.4"],
      [-0.6, -0.4, -0.2, 0.0, 0.2], 1.2, "black", 9.6)

fig.savefig("out.png", dpi=100, facecolor="white")
